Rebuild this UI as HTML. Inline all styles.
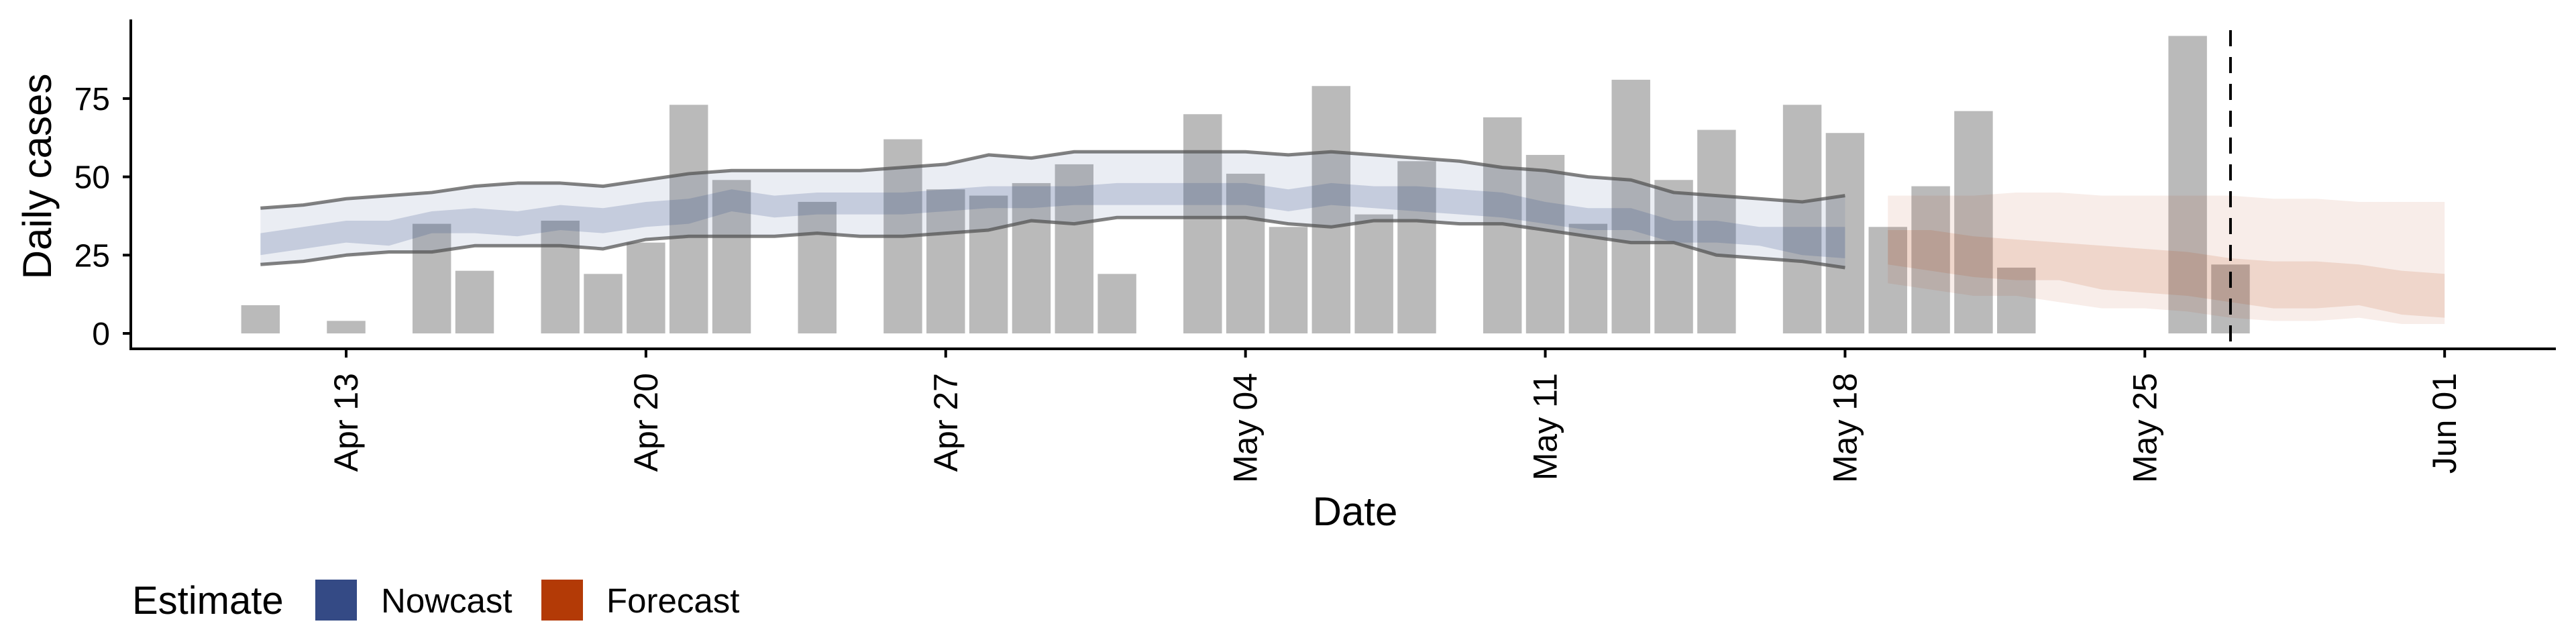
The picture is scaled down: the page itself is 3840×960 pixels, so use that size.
<!DOCTYPE html>
<html><head><meta charset="utf-8"><style>
html,body{margin:0;padding:0;background:#fff;}
svg{display:block;font-family:"Liberation Sans",sans-serif;}
</style></head><body>
<svg id="chart" width="3840" height="960" viewBox="0 0 3840 960">
<g id="bars"></g>
<g id="bands"></g>
<g id="axes"></g>
<text x="0" y="0" transform="translate(76,263) rotate(-90)" text-anchor="middle" font-size="60">Daily cases</text>
<text x="2020" y="783" text-anchor="middle" font-size="60">Date</text>
<g>
<text x="197" y="915" font-size="58">Estimate</text>
<rect x="470" y="864" width="62" height="61" fill="#344a85"></rect>
<text x="568" y="913" font-size="51">Nowcast</text>
<rect x="807" y="864" width="62" height="61" fill="#b33a06"></rect>
<text x="904" y="913" font-size="51">Forecast</text>
</g>
</svg>
<script>
// Day offsets relative to Apr 13
const barDays = [-2,0,2,3,5,6,7,8,9,11,13,14,15,16,17,18,20,21,22,23,24,25,27,28,29,30,31,32,34,35,36,37,38,39,43,44];
const barValues = [9,4,35,20,36,19,29,73,49,42,62,46,44,48,54,19,70,51,34,79,38,55,69,57,35,81,49,65,73,64,34,47,71,21,95,22];
const nowStart = -2;
const nowOuterUpper = [40,41,43,44,45,47,48,48,47,49,51,52,52,52,52,53,54,57,56,58,58,58,58,58,57,58,57,56,55,53,52,50,49,45,44,43,42,44];
const nowOuterLower = [22,23,25,26,26,28,28,28,27,30,31,31,31,32,31,31,32,33,36,35,37,37,37,37,35,34,36,36,35,35,33,31,29,29,25,24,23,21];
const nowInnerUpper = [32,34,36,36,39,40,39,41,40,42,43,46,44,45,45,45,46,47,47,47,48,48,48,48,46,48,47,47,46,45,42,40,40,36,36,34,34,34];
const nowInnerLower = [25,27,29,28,32,32,31,33,32,34,35,39,37,38,38,38,39,40,40,41,41,41,41,41,39,41,40,39,38,37,35,33,33,29,29,28,25,24];
const foreStart = 36;
const foreOuterUpper = [44,44,44,45,45,44,44,44,44,43,43,42,42,42];
const foreOuterLower = [16,14,12,12,10,8,8,7,5,4,4,5,3,3];
const foreInnerUpper = [33,33,31,30,29,28,27,26,24,23,23,22,20,19];
const foreInnerLower = [22,20,18,17,17,14,13,12,10,8,8,9,6,5];
const yTicks = [0,25,50,75];
const xTickDays = [0,7,14,21,28,35,42,49];
const xTickLabels = ["Apr 13","Apr 20","Apr 27","May 04","May 11","May 18","May 25","Jun 01"];
const dataDateDay = 44;

const NS = "http://www.w3.org/2000/svg";
const X0 = 516, DAY = 63.84, Y0 = 497, YU = 116.7/25;
const xs = d => X0 + d * DAY;
const ys = v => Y0 - v * YU;
function mk(tag, attrs, parent){const e=document.createElementNS(NS,tag);for(const k in attrs)e.setAttribute(k,attrs[k]);parent.appendChild(e);return e;}

const gb = document.getElementById('bars');
barDays.forEach((d,i)=>{
  const r = mk('rect',{x:xs(d)-0.45*DAY,y:ys(barValues[i]),width:0.9*DAY,height:ys(0)-ys(barValues[i]),fill:'#bababa'},gb);
  
  
});

const gbd = document.getElementById('bands');
function band(start, up, lo, fill, op, name){
  let pts=[];
  up.forEach((v,i)=>pts.push(xs(start+i)+','+ys(v)));
  for(let i=lo.length-1;i>=0;i--)pts.push(xs(start+i)+','+ys(lo[i]));
  const p = mk('polygon',{points:pts.join(' '),fill:fill,'fill-opacity':op},gbd);
  
  
}
function line(start, vals, name){
  const p = mk('polyline',{points:vals.map((v,i)=>xs(start+i)+','+ys(v)).join(' '),fill:'none',stroke:'#505050','stroke-opacity':0.72,'stroke-width':5,'stroke-linejoin':'round'},gbd);
  
  
}
band(nowStart,nowOuterUpper,nowOuterLower,'#344a85',0.1,'nowcast-outer-band');
band(nowStart,nowInnerUpper,nowInnerLower,'#344a85',0.2,'nowcast-inner-band');
line(nowStart,nowOuterUpper,'nowcast-upper-line');
line(nowStart,nowOuterLower,'nowcast-lower-line');
band(foreStart,foreOuterUpper,foreOuterLower,'#b33a06',0.09,'forecast-outer-band');
band(foreStart,foreInnerUpper,foreInnerLower,'#b33a06',0.13,'forecast-inner-band');

const ga = document.getElementById('axes');
const dl = mk('line',{x1:xs(dataDateDay),x2:xs(dataDateDay),y1:45,y2:520,stroke:'#000','stroke-width':4,'stroke-dasharray':'24,16'},ga);


const ya = mk('line',{x1:195,x2:195,y1:29,y2:522,stroke:'#000','stroke-width':4},ga);


const xa = mk('line',{x1:193,x2:3810,y1:520,y2:520,stroke:'#000','stroke-width':4},ga);


yTicks.forEach(v=>{
  const t = mk('line',{x1:183,x2:195,y1:ys(v),y2:ys(v),stroke:'#000','stroke-width':4},ga);
  
  
  const l = mk('text',{x:164,y:ys(v)+17,'text-anchor':'end','font-size':48,fill:'#000'},ga);
  l.textContent = v;
  
  
});
xTickDays.forEach((d,i)=>{
  const t = mk('line',{x1:xs(d),x2:xs(d),y1:520,y2:533,stroke:'#000','stroke-width':4},ga);
  
  
  const l = mk('text',{x:0,y:0,transform:'translate('+(xs(d)+17)+',556) rotate(-90)','text-anchor':'end','font-size':50,fill:'#000'},ga);
  l.textContent = xTickLabels[i];
  
  
});
</script>
</body></html>
